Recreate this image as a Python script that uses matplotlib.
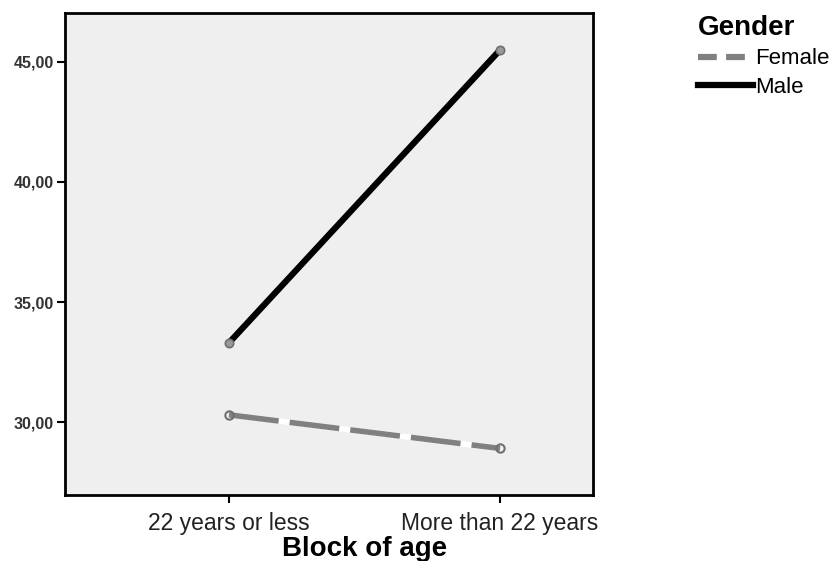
import matplotlib
matplotlib.use("Agg")
import matplotlib.pyplot as plt
from matplotlib.lines import Line2D

plt.rcParams["font.family"] = ["Liberation Sans", "DejaVu Sans"]

categories = ["22 years or less", "More than 22 years"]
female = [30.3, 28.9]
male = [33.3, 45.5]
yticks = [30, 35, 40, 45]

fig = plt.figure(figsize=(8.39, 5.61), dpi=100)
ax = fig.add_axes([65/839, 1 - 495/561, 528/839, 482/561])
ax.set_facecolor("#efefef")
x = range(len(categories))

# female: white under-line with grey dashes on top
ax.plot(x, female, color="white", lw=4, solid_capstyle="butt", zorder=2)
ax.plot(x, female, color="#808080", lw=4, dashes=(9, 2), zorder=3)
ax.plot(x, female, ls="none", marker="o", ms=6, mfc="none", mec="#707070", mew=1.5, zorder=4)
ax.plot(x, male, color="black", lw=4.5, solid_capstyle="round", zorder=3)
ax.plot(x, male, ls="none", marker="o", ms=6, mfc="#999999", mec="#707070", mew=1.2, zorder=4)

ax.set_xlim(-0.605, 1.343)
ax.set_ylim(26.96, 47.04)
ax.set_xticks(list(x))
ax.set_xticklabels(categories, fontsize=16.5, color="#222")
ax.set_yticks(yticks)
ax.set_yticklabels([f"{v:.2f}".replace(".", ",") for v in yticks], fontsize=11.5,
                   color="#333", fontweight="bold")
for s in ax.spines.values():
    s.set_linewidth(2)
ax.tick_params(axis="both", width=1.5, length=6, direction="out", pad=2)
ax.tick_params(axis="x", pad=6)
ax.set_xlabel("Block of age", fontsize=20, fontweight="bold", labelpad=0)
ax.xaxis.set_label_coords(0.568, -0.085)

handles = [Line2D([0], [0], color="#808080", lw=4.5, dashes=(3, 1.5)),
           Line2D([0], [0], color="black", lw=4.5)]
leg = fig.legend(handles, ["Female", "Male"], loc="upper left",
                 bbox_to_anchor=(682/839, 1 + 1/561), frameon=False,
                 title="Gender", fontsize=16, handlelength=2.5,
                 handletextpad=0.1, labelspacing=0.35, borderpad=0.2)
leg.get_title().set_fontsize(20)
leg.get_title().set_fontweight("bold")
leg._legend_box.align = "left"

fig.savefig("out.png", dpi=100, facecolor="white")
